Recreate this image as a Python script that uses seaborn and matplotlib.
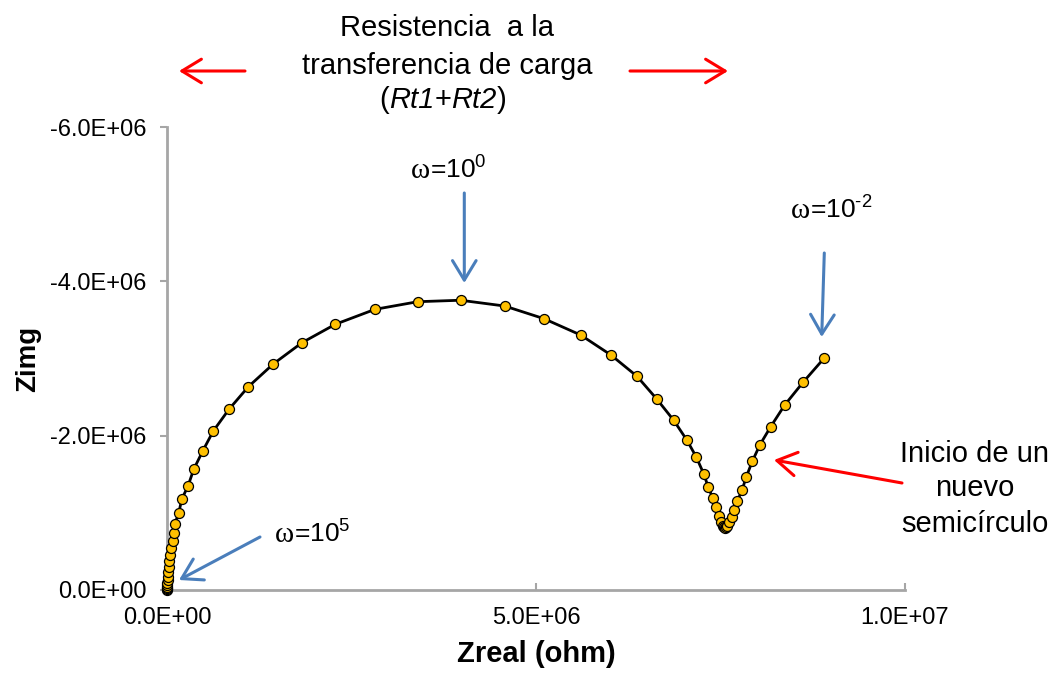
import numpy as np
import pandas as pd
import matplotlib
matplotlib.use("Agg")
import matplotlib.pyplot as plt
import seaborn as sns
from matplotlib.ticker import FuncFormatter

# ---------------- data ----------------
zreal = [0.002e6, 0.003e6, 0.003e6, 0.004e6, 0.005e6, 0.006e6, 0.007e6, 0.009e6,
         0.014e6, 0.023e6, 0.031e6, 0.045e6, 0.058e6, 0.077e6, 0.091e6, 0.104e6,
         0.159e6, 0.199e6, 0.285e6, 0.362e6, 0.484e6, 0.627e6, 0.840e6, 1.102e6,
         1.440e6, 1.829e6, 2.280e6, 2.818e6, 3.397e6, 3.977e6, 4.576e6, 5.108e6,
         5.606e6, 6.016e6, 6.369e6, 6.636e6, 6.866e6, 7.046e6, 7.172e6, 7.272e6,
         7.335e6, 7.394e6, 7.439e6, 7.480e6, 7.507e6, 7.530e6, 7.545e6, 7.561e6,
         7.577e6, 7.592e6, 7.619e6, 7.660e6, 7.683e6, 7.728e6, 7.791e6, 7.850e6,
         7.931e6, 8.035e6, 8.180e6, 8.370e6, 8.618e6, 8.906e6]
zimg = [0.000e6, -0.010e6, -0.020e6, -0.040e6, -0.060e6, -0.090e6, -0.125e6, -0.172e6,
        -0.233e6, -0.302e6, -0.376e6, -0.454e6, -0.540e6, -0.639e6, -0.735e6, -0.855e6,
        -0.994e6, -1.175e6, -1.348e6, -1.564e6, -1.801e6, -2.060e6, -2.342e6, -2.634e6,
        -2.929e6, -3.205e6, -3.443e6, -3.637e6, -3.736e6, -3.755e6, -3.680e6, -3.516e6,
        -3.304e6, -3.045e6, -2.769e6, -2.475e6, -2.199e6, -1.940e6, -1.723e6, -1.507e6,
        -1.331e6, -1.192e6, -1.072e6, -0.959e6, -0.885e6, -0.829e6, -0.812e6, -0.800e6,
        -0.812e6, -0.829e6, -0.885e6, -0.950e6, -1.033e6, -1.153e6, -1.292e6, -1.468e6,
        -1.668e6, -1.883e6, -2.116e6, -2.397e6, -2.691e6, -3.006e6]
x_ticks = [0, 5e6, 1e7]
y_ticks = [0, -2e6, -4e6, -6e6]
x_label = "Zreal (ohm)"
y_label = "Zimg"
title_lines = ["Resistencia  a la", "transferencia de carga"]
new_arc_lines = ["Inicio de un", "nuevo", "semicírculo"]
omega_exponents = ["0", r"\text{-}2", "5"]

# ---------------- style ----------------
sns.set_theme(style="white")
plt.rcParams["font.family"] = ["Liberation Sans", "DejaVu Sans"]
plt.rcParams["mathtext.fontset"] = "custom"
plt.rcParams["mathtext.rm"] = "Liberation Sans"
plt.rcParams["mathtext.it"] = "Liberation Sans:italic"
plt.rcParams["mathtext.bf"] = "Liberation Sans:bold"
plt.rcParams["mathtext.default"] = "regular"

W, H = 1055, 674
fig = plt.figure(figsize=(W / 100, H / 100), dpi=100)
ax = fig.add_axes([167 / W, 84 / H, 738 / W, 463 / H])

df = pd.DataFrame({"Zreal": zreal, "Zimg": zimg})
sns.lineplot(data=df, x="Zreal", y="Zimg", sort=False, estimator=None, ax=ax,
             color="black", lw=2.0, marker="o", markersize=7.2,
             markerfacecolor="#FFC000", markeredgecolor="black",
             markeredgewidth=0.9, clip_on=False, zorder=3)

ax.set_xlim(0, 1e7)
ax.set_ylim(0, -6e6)
ax.set_xticks(x_ticks)
ax.set_yticks(y_ticks)
fmt = FuncFormatter(lambda v, p: f"{v:.1E}")
ax.xaxis.set_major_formatter(fmt)
ax.yaxis.set_major_formatter(fmt)

for s in ["top", "right"]:
    ax.spines[s].set_visible(False)
for s in ["left", "bottom"]:
    ax.spines[s].set_color("#A6A6A6")
    ax.spines[s].set_linewidth(2.0)

ax.tick_params(axis="x", bottom=True, direction="in", length=5, width=1.5,
               color="#A6A6A6", labelsize=17, labelcolor="black", pad=12)
ax.tick_params(axis="y", left=True, direction="out", length=5, width=1.5,
               color="#A6A6A6", labelsize=17, labelcolor="black", pad=10)

ax.set_xlabel(x_label, fontsize=21, fontweight="bold", color="black", labelpad=8)
ax.set_ylabel(y_label, fontsize=20, fontweight="bold", color="black", labelpad=6)


# ---------------- annotations ----------------
def fp(x, y):
    """reference pixel (top-left origin) -> figure pixels"""
    return (x, H - y)


def chain(x, y_base, pieces):
    prev = None
    for text, kw in pieces:
        if prev is None:
            prev = ax.annotate(text, xy=fp(x, y_base), xycoords="figure pixels",
                               ha="left", va="baseline", color="black", **kw)
        else:
            prev = ax.annotate(text, xy=(1, 0), xycoords=prev, ha="left",
                               va="bottom", color="black", **kw)
    return prev


def arrow(tail, head, color, lw=2.2):
    ax.annotate("", xy=fp(*head), xytext=fp(*tail), xycoords="figure pixels",
                textcoords="figure pixels",
                arrowprops=dict(arrowstyle="->,head_length=14,head_width=8.5",
                                mutation_scale=1, color=color, lw=lw,
                                shrinkA=0, shrinkB=0))


BLUE = "#4A7EBB"
RED = "#FF0000"

# title block
ax.annotate(title_lines[0], xy=fp(447, 36), xycoords="figure pixels",
            ha="center", va="baseline", fontsize=21, color="black")
ax.annotate(title_lines[1], xy=fp(447, 74), xycoords="figure pixels",
            ha="center", va="baseline", fontsize=21, color="black")
chain(379, 108, [("(", dict(fontsize=21)),
                 ("Rt1", dict(fontsize=21, style="italic")),
                 ("+", dict(fontsize=21)),
                 ("Rt2", dict(fontsize=21, style="italic")),
                 (")", dict(fontsize=21))])
arrow((245, 71), (179, 71), RED)
arrow((630, 71), (728, 71), RED)


# omega labels
def omega(x, yb, exp):
    chain(x, yb, [("ω", dict(fontsize=21, family=["Liberation Serif", "DejaVu Serif"])),
                  ("=$10^{" + exp + "}$", dict(fontsize=19))])


omega(411, 178, omega_exponents[0])
omega(791, 218, omega_exponents[1])
omega(275, 542, omega_exponents[2])
arrow((464.3, 193), (464.3, 283), BLUE)
arrow((824.3, 253), (821.7, 337), BLUE)
arrow((260, 537), (179, 580), BLUE)

# new semicircle note
for line, yb in zip(new_arc_lines, [462, 496, 532]):
    ax.annotate(line, xy=fp(975, yb), xycoords="figure pixels",
                ha="center", va="baseline", fontsize=21, color="black")
arrow((902, 483), (774, 460), RED)

fig.savefig("out.png", dpi=100, facecolor="white")
